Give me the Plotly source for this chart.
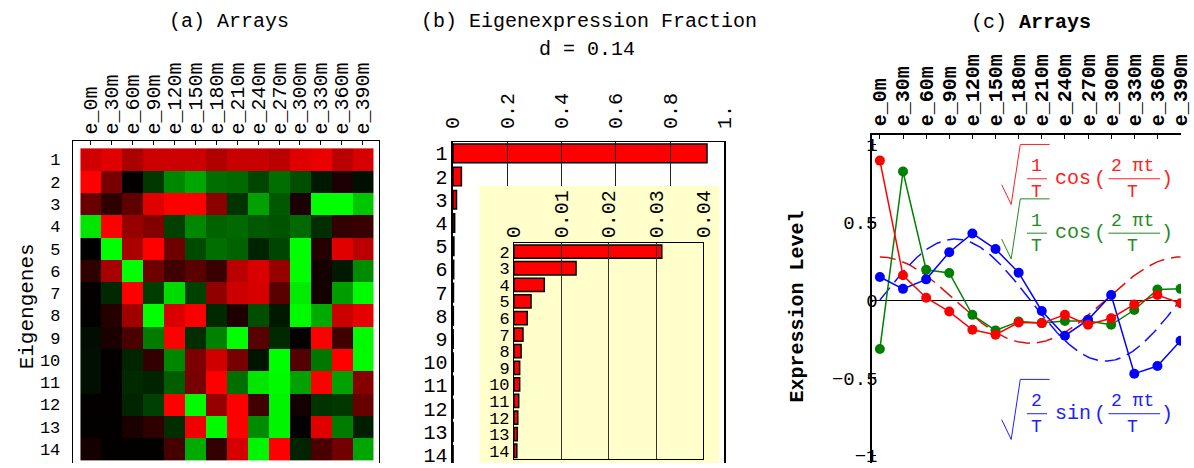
import numpy as np
import plotly.graph_objects as go

W, H = 1194, 468
FONT = "Liberation Mono"

# ---------------- data ----------------
arrays = ["e_0m", "e_30m", "e_60m", "e_90m", "e_120m", "e_150m", "e_180m",
          "e_210m", "e_240m", "e_270m", "e_300m", "e_330m", "e_360m", "e_390m"]
eigengenes = list(range(1, 15))

# eigengene expression (+ red, - green), rows = eigengenes 1..14
heat_rows = [
    [0.82, 0.88, 0.67, 0.80, 0.80, 0.80, 0.69, 0.78, 0.78, 0.73, 0.88, 0.92, 0.73, 0.84],
    [1.00, 0.47, 0.02, -0.22, -0.53, -0.65, -0.43, -0.41, -0.27, -0.43, -0.31, -0.10, 0.10, -0.06],
    [0.41, 0.18, 0.37, 0.88, 1.00, 1.00, 0.55, -0.20, -0.63, -0.35, 0.10, -1.00, -1.00, -0.78],
    [-0.90, 1.00, 0.59, 0.51, -0.25, -0.53, -0.39, -0.41, -0.35, -0.33, -0.41, -0.18, 0.20, 0.22],
    [0.00, -1.00, 0.67, 1.00, 0.43, -0.29, -0.43, -0.39, -0.14, -0.27, -1.00, 0.14, 0.88, 0.73],
    [0.18, 0.65, -1.00, 0.43, 0.25, 0.35, 0.22, 0.73, 0.86, 0.59, -1.00, 0.08, -0.10, -0.55],
    [0.02, -0.16, 1.00, -0.24, -0.86, -0.25, 0.57, 0.80, 0.84, 0.35, -0.92, 0.08, -0.61, -0.98],
    [0.01, 0.14, 0.63, -1.00, 0.86, 0.98, -0.16, 0.12, -0.31, -0.10, -0.98, -0.67, 0.80, 0.90],
    [-0.05, 0.10, 0.29, -0.49, 1.00, -0.18, -0.51, -1.00, 0.35, -0.16, 0.01, 1.00, 0.25, -0.98],
    [-0.06, 0.02, -0.14, 0.20, -0.53, 0.49, 0.82, 0.47, -0.08, -1.00, 0.33, -0.47, 1.00, -0.98],
    [-0.06, 0.02, -0.16, -0.14, -0.37, 0.47, 1.00, -0.43, -0.90, -0.98, -0.63, 1.00, -0.63, 0.53],
    [0.02, 0.01, -0.14, -0.25, 1.00, -0.98, 0.59, 1.00, 0.25, -0.96, 0.08, -0.20, -0.22, 0.41],
    [0.01, 0.01, 0.10, 0.18, -0.18, 0.94, -0.98, 1.00, -0.55, -0.96, 0.01, 0.88, -0.49, -0.12],
    [0.08, 0.01, 0.01, 0.01, 0.27, -0.67, 0.20, 0.84, -0.96, 1.00, -0.14, 0.29, 0.45, -0.65],
]

fraction = [0.936, 0.0312, 0.0131, 0.0064, 0.0036, 0.0028, 0.0019,
            0.0015, 0.0012, 0.0012, 0.0010, 0.0008, 0.0007, 0.0006]
main_ticks = [0, 0.2, 0.4, 0.6, 0.8, 1.0]
main_ticktext = ["0", "0.2", "0.4", "0.6", "0.8", "1."]
inset_ticks = [0, 0.01, 0.02, 0.03, 0.04]
inset_ticktext = ["0", "0.01", "0.02", "0.03", "0.04"]

red_vals = [0.896, 0.159, 0.015, -0.074, -0.191, -0.223, -0.144, -0.148,
            -0.095, -0.159, -0.117, -0.028, 0.032, -0.021]
green_vals = [-0.314, 0.826, 0.195, 0.174, -0.095, -0.195, -0.138, -0.148,
              -0.134, -0.134, -0.159, -0.064, 0.068, 0.072]
blue_vals = [0.148, 0.072, 0.133, 0.307, 0.428, 0.328, 0.176, -0.070,
             -0.229, -0.127, 0.032, -0.473, -0.424, -0.261]
level_ticks = [-1, -0.5, 0, 0.5, 1]
level_ticktext = ["\u22121", "\u22120.5", "0", "0.5", "1"]

# model curves given in the panel: sqrt(1/T) cos(2 pi t/T), sqrt(2/T) sin(2 pi t/T)
T = 13
t_fine = np.linspace(0, T, 400)
cos_curve = np.sqrt(1 / T) * np.cos(2 * np.pi * t_fine / T)
sin_curve = np.sqrt(2 / T) * np.sin(2 * np.pi * t_fine / T)


def X(px):
    return px / W


def Y(py):
    return 1 - py / H


fig = go.Figure()

# (a) heatmap
fig.add_trace(go.Heatmap(
    z=heat_rows, x=eigengenes, y=eigengenes,
    colorscale=[[0, "rgb(0,255,0)"], [0.5, "rgb(0,0,0)"], [1, "rgb(255,0,0)"]],
    zmin=-1, zmax=1, showscale=False, xaxis="x", yaxis="y", hoverinfo="skip"))

# (b) main bars
bar_style = dict(color="#ff0000", line=dict(color="black", width=1.5))
fig.add_trace(go.Bar(x=fraction, y=eigengenes, orientation="h", width=0.8,
                     marker=bar_style, xaxis="x2", yaxis="y2", showlegend=False))
# (b) inset bars
fig.add_trace(go.Bar(x=fraction[1:], y=eigengenes[1:], orientation="h", width=0.8,
                     marker=bar_style, xaxis="x3", yaxis="y3", showlegend=False))
# grid overlays (drawn above bars)
fig.add_trace(go.Scatter(x=[None], y=[None], xaxis="x5", yaxis="y5", showlegend=False))
fig.add_trace(go.Scatter(x=[None], y=[None], xaxis="x6", yaxis="y6", showlegend=False))

# (c) curves
fig.add_trace(go.Scatter(x=t_fine + 1, y=cos_curve, mode="lines",
                         line=dict(color="#e01010", width=1.5, dash="16px,7px"),
                         xaxis="x4", yaxis="y4", showlegend=False))
fig.add_trace(go.Scatter(x=t_fine + 1, y=sin_curve, mode="lines",
                         line=dict(color="#1010ff", width=1.5, dash="16px,7px"),
                         xaxis="x4", yaxis="y4", showlegend=False))
for vals, col in [(green_vals, "#008000"), (blue_vals, "#0000ff"), (red_vals, "#ff0000")]:
    fig.add_trace(go.Scatter(x=eigengenes, y=vals, mode="lines+markers",
                             line=dict(color=col, width=1.5),
                             marker=dict(color=col, size=10),
                             xaxis="x4", yaxis="y4", showlegend=False))

tf = lambda s, **kw: dict(family=FONT, size=s, color="black", **kw)
common = dict(showgrid=False, zeroline=False, linecolor="black", tickcolor="black",
              ticklabeloverflow="allow")

layout = dict(
    width=W, height=H, margin=dict(l=0, r=0, t=0, b=0),
    paper_bgcolor="white", plot_bgcolor="rgba(0,0,0,0)",
    showlegend=False, bargap=0,
    xaxis=dict(domain=[X(63), X(376)], range=[0.13, 14.8], side="top", anchor="y",
               tickmode="array", tickvals=eigengenes, ticktext=arrays, tickangle=-90,
               ticks="inside", ticklen=4, showline=True, linewidth=1,
               tickfont=tf(20), ticklabelstandoff=2, **common),
    yaxis=dict(domain=[0, Y(143)], range=[14.63, 0.19], anchor="x",
               tickmode="array", tickvals=eigengenes, ticks="", showline=True, mirror=True,
               linewidth=1, tickfont=tf(17), ticklabelstandoff=8, **common),
    xaxis2=dict(domain=[X(451), X(728)], range=[0, 1], side="top", anchor="y2",
                tickmode="array", tickvals=main_ticks, ticktext=main_ticktext, tickangle=-90,
                ticks="", showline=True, linewidth=1.5, tickfont=tf(20),
                ticklabelstandoff=8, **common),
    yaxis2=dict(domain=[0, Y(144)], range=[14.34, 0.53], anchor="x2",
                tickmode="array", tickvals=eigengenes, ticks="", showline=True, mirror=True,
                linewidth=1.5, tickfont=tf(20), **common),
    xaxis3=dict(domain=[X(513.3), X(706.7)], range=[0, 0.04], side="top", anchor="y3",
                tickmode="array", tickvals=inset_ticks, ticktext=inset_ticktext, tickangle=-90,
                ticks="", showline=True, mirror=True, linewidth=1, tickfont=tf(20), **common),
    yaxis3=dict(domain=[Y(464), Y(246)], range=[14.5, 1.5], anchor="x3",
                tickmode="array", tickvals=eigengenes[1:], ticks="", showline=True,
                mirror=True, linewidth=1, tickfont=tf(17), ticklabelstandoff=0, **common),
    xaxis5=dict(domain=[X(451), X(728)], range=[0, 1], anchor="y5",
                tickmode="array", tickvals=[0.2, 0.4, 0.6, 0.8], showgrid=True,
                gridcolor="#222222", gridwidth=1, showticklabels=False, ticks="",
                showline=False, zeroline=False),
    yaxis5=dict(domain=[Y(188), Y(144)], range=[0, 1], anchor="x5", showgrid=False,
                showticklabels=False, ticks="", showline=False, zeroline=False),
    xaxis6=dict(domain=[X(513.3), X(706.7)], range=[0, 0.04], anchor="y6",
                tickmode="array", tickvals=[0.01, 0.02, 0.03], showgrid=True,
                gridcolor="#333333", gridwidth=1, showticklabels=False, ticks="",
                showline=False, zeroline=False),
    yaxis6=dict(domain=[Y(464), Y(246)], range=[0, 1], anchor="x6", showgrid=False,
                showticklabels=False, ticks="", showline=False, zeroline=False),
    xaxis4=dict(domain=[X(879), 1], range=[0.674, 14.02], side="top", anchor="y4",
                tickmode="array", tickvals=eigengenes, ticktext=arrays, tickangle=-90,
                ticks="inside", ticklen=4, showline=True, linewidth=2,
                tickfont=tf(20, weight="bold"), ticklabelstandoff=3, **common),
    yaxis4=dict(domain=[0, Y(136.7)], range=[-1.047, 1.059], anchor="x4",
                tickmode="array", tickvals=level_ticks, ticktext=level_ticktext,
                ticks="inside", ticklen=4, showline=True, linewidth=2, tickfont=tf(19),
                ticklabelstandoff=-11, ticklabeloverflow="allow",
                showgrid=False, zeroline=True, zerolinecolor="black", zerolinewidth=1,
                linecolor="black", tickcolor="black"),
)
fig.update_layout(**layout)

shapes = [
    # yellow inset background
    dict(type="rect", xref="paper", yref="paper", x0=X(478), x1=X(723), y0=0, y1=Y(188),
         fillcolor="#ffffcc", line=dict(width=0), layer="below"),
]

annotations = [
    dict(text="(a) Arrays", x=X(222), y=Y(22), font=tf(20)),
    dict(text="(b) Eigenexpression Fraction", x=X(590), y=Y(22), font=tf(20)),
    dict(text="d = 0.14", x=X(588), y=Y(50), font=tf(20)),
    dict(text="(c) <b>Arrays</b>", x=X(1041), y=Y(23), font=tf(20)),
    dict(text="Eigengenes", x=X(17), y=Y(310), textangle=-90, font=tf(21)),
    dict(text="<b>Expression Level</b>", x=X(803), y=Y(310), textangle=-90, font=tf(20)),
]

formulas = [("#ff2020", 0, "1", "cos"), ("#1e8c1e", 55, "1", "cos"), ("#2020ff", 237.5, "2", "sin")]
for col, dy, num, fn in formulas:
    f18 = dict(family=FONT, size=18, color=col)
    f20 = dict(family=FONT, size=20, color=col)
    annotations += [
        dict(text=num, x=X(1046.7), y=Y(168 + dy), font=f18),
        dict(text="T", x=X(1046.7), y=Y(194 + dy), font=f18),
        dict(text=fn, x=X(1083.3), y=Y(180 + dy), font=f20),
        dict(text="(", x=X(1111.7), y=Y(181 + dy), font=f20),
        dict(text="2 \u03c0t", x=X(1145), y=Y(168 + dy), font=f18),
        dict(text="T", x=X(1145), y=Y(194 + dy), font=f18),
        dict(text=")", x=X(1180), y=Y(181 + dy), font=f20),
    ]
    path = "M {} {} L {} {} L {} {} L {} {}".format(
        X(1011), Y(186.7 + dy), X(1020.7), Y(206.7 + dy),
        X(1030), Y(146 + dy), X(1060), Y(146 + dy))
    shapes += [
        dict(type="path", path=path, xref="paper", yref="paper",
             line=dict(color=col, width=1)),
        dict(type="line", xref="paper", yref="paper", x0=X(1036.7), x1=X(1057.3),
             y0=Y(180.7 + dy), y1=Y(180.7 + dy), line=dict(color=col, width=1)),
        dict(type="line", xref="paper", yref="paper", x0=X(1120), x1=X(1172.7),
             y0=Y(180.7 + dy), y1=Y(180.7 + dy), line=dict(color=col, width=1)),
    ]

for a in annotations:
    a.update(xref="paper", yref="paper", showarrow=False, xanchor="center", yanchor="middle")

fig.update_layout(shapes=shapes, annotations=annotations)
fig.write_html("out.html", config={"displayModeBar": False, "staticPlot": True})

# remove the default page margin so the figure sits at the window origin
with open("out.html", encoding="utf-8") as fh:
    html = fh.read()
html = html.replace("<head>", "<head><style>html,body{margin:0;padding:0;overflow:hidden;}</style>", 1)
with open("out.html", "w", encoding="utf-8") as fh:
    fh.write(html)
